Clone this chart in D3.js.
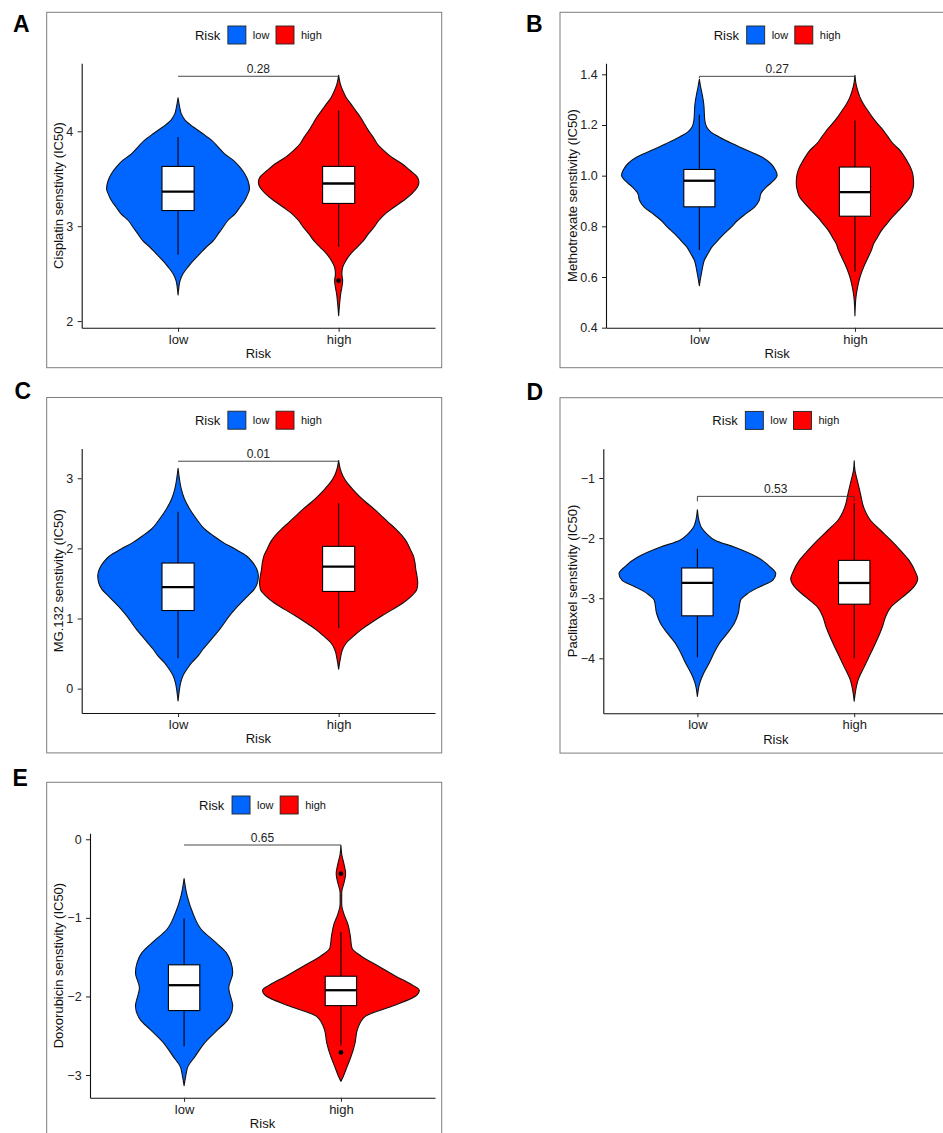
<!DOCTYPE html>
<html><head><meta charset="utf-8">
<script src="https://cdn.jsdelivr.net/npm/d3@7"></script>
<style>
html,body{margin:0;padding:0;background:#fff;}
svg{display:block;font-family:"Liberation Sans", Arial, sans-serif;}
</style></head><body>
<svg id="chart" width="943" height="1133"></svg>
<script>
// ---------------- DATA ----------------
const categories = ["low", "high"];
const categoryColors = ["#0066FF", "#FF0000"];
const legendTitle = "Risk";
const xTitle = "Risk";
const panelLetters = ["A", "B", "C", "D", "E"];
const yTitles = [
  "Cisplatin senstivity (IC50)",
  "Methotrexate senstivity (IC50)",
  "MG.132 senstivity (IC50)",
  "Paclitaxel senstivity (IC50)",
  "Doxorubicin senstivity (IC50)"
];
const pValues = ["0.28", "0.27", "0.01", "0.53", "0.65"];
const bracketValues = [4.58, 1.392, 3.243, -1.305, -0.073];
const yTickValues = [
  [2, 3, 4],
  [0.4, 0.6, 0.8, 1.0, 1.2, 1.4],
  [0, 1, 2, 3],
  [-4, -3, -2, -1],
  [-3, -2, -1, 0]
];
const yTickFormats = ["d", ".1f", "d", "d", "d"];

// box stats: [lower whisker, Q1, median, Q3, upper whisker] for [low, high]
const cisplatinBox = [[2.70, 3.165, 3.365, 3.63, 3.94], [2.785, 3.24, 3.45, 3.63, 4.22]];
const methotrexateBox = [[0.707, 0.877, 0.98, 1.0245, 1.241], [0.622, 0.84, 0.935, 1.034, 1.218]];
const mg132Box = [[0.434, 1.114, 1.448, 1.791, 2.524], [0.862, 1.386, 1.739, 2.029, 2.648]];
const paclitaxelBox = [[-3.983, -3.293, -2.746, -2.497, -2.177], [-4.0, -3.099, -2.746, -2.370, -1.42]];
const doxorubicinBox = [[-2.635, -2.180, -1.857, -1.598, -1.007], [-2.627, -2.117, -1.921, -1.743, -1.181]];

// outliers for [low, high]
const cisplatinOutliers = [[], [2.425]];
const methotrexateOutliers = [[], []];
const mg132Outliers = [[], []];
const paclitaxelOutliers = [[], []];
const doxorubicinOutliers = [[], [-0.438, -2.712]];

// violin density profiles [value, relative density]
const cisplatinLowDensity = [[4.354,0],[4.256,.02],[4.186,.04],[4.115,.09],[4.045,.19],[3.974,.31],[3.904,.42],[3.834,.50],[3.763,.58],[3.693,.69],[3.622,.77],[3.552,.83],[3.482,.87],[3.394,.89],[3.341,.87],[3.271,.83],[3.200,.77],[3.130,.71],[3.060,.62],[2.989,.56],[2.919,.50],[2.848,.44],[2.778,.35],[2.708,.27],[2.637,.19],[2.567,.12],[2.496,.06],[2.426,.025],[2.356,.01],[2.275,0]];
const cisplatinHighDensity = [[4.590,0],[4.502,.02],[4.432,.05],[4.362,.09],[4.291,.15],[4.221,.21],[4.151,.27],[4.080,.32],[4.010,.37],[3.939,.43],[3.869,.48],[3.799,.56],[3.728,.66],[3.658,.79],[3.587,.89],[3.517,.98],[3.464,1.0],[3.411,.98],[3.341,.91],[3.271,.81],[3.200,.69],[3.130,.58],[3.060,.50],[2.989,.44],[2.919,.37],[2.848,.31],[2.778,.23],[2.708,.15],[2.637,.09],[2.567,.05],[2.496,.04],[2.426,.05],[2.356,.04],[2.285,.025],[2.180,.012],[2.056,0]];
const methotrexateLowDensity = [[1.380,0],[1.350,.017],[1.324,.034],[1.297,.05],[1.271,.06],[1.245,.064],[1.218,.07],[1.192,.094],[1.172,.15],[1.152,.26],[1.126,.43],[1.099,.62],[1.073,.81],[1.047,.92],[1.021,.98],[1.001,1.0],[0.982,.96],[0.955,.86],[0.929,.79],[0.903,.77],[0.876,.71],[0.850,.60],[0.823,.49],[0.797,.41],[0.771,.32],[0.745,.24],[0.718,.16],[0.692,.11],[0.666,.064],[0.626,.034],[0.566,0]];
const methotrexateHighDensity = [[1.396,0],[1.363,.013],[1.337,.034],[1.310,.064],[1.284,.107],[1.258,.163],[1.231,.223],[1.205,.29],[1.179,.364],[1.152,.428],[1.126,.49],[1.100,.58],[1.073,.64],[1.047,.69],[1.021,.73],[0.994,.75],[0.968,.754],[0.941,.74],[0.915,.71],[0.889,.64],[0.862,.56],[0.836,.48],[0.810,.41],[0.783,.34],[0.757,.29],[0.731,.24],[0.704,.21],[0.678,.17],[0.652,.13],[0.625,.094],[0.599,.064],[0.560,.034],[0.520,.013],[0.447,0]];
const mg132LowDensity = [[3.143,0],[2.991,.017],[2.848,.04],[2.705,.08],[2.562,.145],[2.419,.23],[2.276,.33],[2.181,.44],[2.086,.56],[1.990,.71],[1.895,.85],[1.800,.93],[1.705,.98],[1.610,1.0],[1.514,.99],[1.419,.95],[1.324,.87],[1.229,.79],[1.133,.71],[1.038,.64],[0.943,.58],[0.848,.52],[0.752,.45],[0.657,.38],[0.562,.31],[0.467,.25],[0.371,.17],[0.276,.11],[0.181,.06],[0.086,.033],[-0.057,.012],[-0.176,0]];
const mg132HighDensity = [[3.253,0],[3.134,.02],[3.039,.05],[2.944,.10],[2.849,.17],[2.753,.25],[2.658,.34],[2.563,.44],[2.467,.53],[2.372,.62],[2.277,.71],[2.181,.79],[2.086,.85],[1.991,.89],[1.896,.93],[1.800,.95],[1.705,.96],[1.610,.975],[1.515,.985],[1.420,.975],[1.324,.91],[1.229,.81],[1.134,.68],[1.039,.54],[0.943,.41],[0.848,.29],[0.753,.19],[0.658,.10],[0.562,.05],[0.420,.02],[0.277,0]];
const paclitaxelLowDensity = [[-1.530,0],[-1.707,.02],[-1.818,.05],[-1.928,.12],[-2.039,.23],[-2.149,.47],[-2.315,.76],[-2.481,.93],[-2.591,1.0],[-2.702,.96],[-2.812,.79],[-2.923,.64],[-3.033,.55],[-3.254,.52],[-3.420,.47],[-3.586,.38],[-3.751,.28],[-3.917,.21],[-4.083,.15],[-4.249,.08],[-4.414,.03],[-4.635,0]];
const paclitaxelHighDensity = [[-0.712,0],[-0.878,.01],[-1.044,.04],[-1.265,.08],[-1.486,.12],[-1.707,.21],[-1.873,.34],[-2.039,.47],[-2.204,.59],[-2.370,.70],[-2.591,.79],[-2.674,.81],[-2.812,.76],[-2.978,.62],[-3.144,.47],[-3.309,.40],[-3.475,.36],[-3.696,.29],[-3.917,.21],[-4.138,.13],[-4.359,.05],[-4.525,.02],[-4.713,0]];
const doxorubicinLowDensity = [[-0.501,0],[-0.723,.04],[-0.935,.11],[-1.148,.22],[-1.318,.41],[-1.445,.54],[-1.573,.60],[-1.700,.62],[-1.891,.57],[-2.125,.62],[-2.295,.56],[-2.423,.43],[-2.593,.26],[-2.763,.14],[-2.890,.05],[-3.018,.02],[-3.137,0]];
const doxorubicinHighDensity = [[-0.077,0],[-0.191,.01],[-0.319,.04],[-0.438,.06],[-0.553,.04],[-0.680,.01],[-0.829,.01],[-0.956,.04],[-1.084,.09],[-1.233,.12],[-1.381,.14],[-1.488,.26],[-1.615,.48],[-1.743,.70],[-1.849,.90],[-1.921,1.0],[-1.998,.95],[-2.125,.65],[-2.253,.31],[-2.423,.21],[-2.593,.18],[-2.763,.13],[-2.890,.08],[-3.018,.03],[-3.081,0]];

const panelBoxes = [cisplatinBox, methotrexateBox, mg132Box, paclitaxelBox, doxorubicinBox];
const panelOutliers = [cisplatinOutliers, methotrexateOutliers, mg132Outliers, paclitaxelOutliers, doxorubicinOutliers];
const panelDensities = [
  [cisplatinLowDensity, cisplatinHighDensity],
  [methotrexateLowDensity, methotrexateHighDensity],
  [mg132LowDensity, mg132HighDensity],
  [paclitaxelLowDensity, paclitaxelHighDensity],
  [doxorubicinLowDensity, doxorubicinHighDensity]
];

// ---------------- LAYOUT ----------------
const layout = [
  {x0: 46.7, y0: 12.3, left: 81.7, lx: 13, ly: 32.3, tip: 0},
  {x0: 560, y0: 12.3, left: 606, lx: 526, ly: 32.3, tip: 2},
  {x0: 46.7, y0: 397.5, left: 81.7, lx: 14.5, ly: 398.5, tip: 0},
  {x0: 560, y0: 397.7, left: 603.3, lx: 526.5, ly: 399.5, tip: 5},
  {x0: 46.7, y0: 782.3, left: 90, lx: 12.5, ly: 785.8, tip: 0}
];
const PW = 395, PH = 355.4;

const svg = d3.select("#chart");
svg.append("rect").attr("width", 943).attr("height", 1133).attr("fill", "#fff");

panelLetters.forEach((letter, i) => {
  const L = layout[i];
  const g = svg.append("g");
  const top = L.y0 + 51, bottom = L.y0 + 315.5, right = L.x0 + 388.3, left = L.left;

  // panel border
  g.append("rect").attr("x", L.x0).attr("y", L.y0).attr("width", PW).attr("height", PH)
    .attr("fill", "none").attr("stroke", "#7d7d7d").attr("stroke-width", 1);

  // panel letter
  svg.append("text").attr("x", L.lx).attr("y", L.ly).text(letter)
    .attr("font-size", 23).attr("font-weight", "bold").attr("fill", "#000");

  const dens = panelDensities[i];
  const allVals = dens.flatMap(d => d.map(p => p[0]));
  const ext = d3.extent(allVals);
  const pad = (ext[1] - ext[0]) * 0.05;
  const y = d3.scaleLinear().domain([ext[0] - pad, ext[1] + pad]).range([bottom, top]);
  const x = d3.scalePoint().domain(categories).range([left, right]).padding(0.6);
  const step = x.step();
  const maxD = d3.max(dens.flatMap(d => d.map(p => p[1])));

  // violins
  categories.forEach((cat, j) => {
    const cx = x(cat);
    const w = d3.scaleLinear().domain([0, maxD]).range([0, step * 0.5]);
    const area = d3.area()
      .y(p => y(p[0]))
      .x0(p => cx - w(p[1]))
      .x1(p => cx + w(p[1]))
      .curve(d3.curveMonotoneY);
    g.append("path").attr("d", area(dens[j]))
      .attr("fill", categoryColors[j]).attr("stroke", "#111").attr("stroke-width", 1.1)
      .attr("stroke-linejoin", "round");
  });

  // boxes
  categories.forEach((cat, j) => {
    const cx = x(cat);
    const b = panelBoxes[i][j];
    const bw = step * 0.2;
    g.append("line").attr("x1", cx).attr("x2", cx).attr("y1", y(b[0])).attr("y2", y(b[4]))
      .attr("stroke", "#000").attr("stroke-width", 1.1);
    g.append("rect").attr("x", cx - bw / 2).attr("width", bw)
      .attr("y", y(b[3])).attr("height", y(b[1]) - y(b[3]))
      .attr("fill", "#fff").attr("stroke", "#000").attr("stroke-width", 1.1);
    g.append("line").attr("x1", cx - bw / 2).attr("x2", cx + bw / 2)
      .attr("y1", y(b[2])).attr("y2", y(b[2]))
      .attr("stroke", "#000").attr("stroke-width", 2.3);
    panelOutliers[i][j].forEach(o => {
      g.append("circle").attr("cx", cx).attr("cy", y(o)).attr("r", 2.4).attr("fill", "#000");
    });
  });

  // significance bracket
  const by = y(bracketValues[i]);
  const xl = x(categories[0]), xh = x(categories[1]);
  g.append("path").attr("d", `M${xl},${by + L.tip}V${by}H${xh}V${by + L.tip}`)
    .attr("fill", "none").attr("stroke", "#333").attr("stroke-width", 0.9);
  g.append("text").attr("x", (xl + xh) / 2).attr("y", by - 3).attr("text-anchor", "middle")
    .attr("font-size", 12).attr("fill", "#222").text(pValues[i]);

  // axes
  const yAxis = d3.axisLeft(y).tickValues(yTickValues[i]).tickFormat(d3.format(yTickFormats[i]))
    .tickSize(4).tickSizeOuter(0).tickPadding(4.4);
  const ya = g.append("g").attr("transform", `translate(${left},0)`).call(yAxis);
  const xAxis = d3.axisBottom(x).tickSize(4).tickSizeOuter(0).tickPadding(2.6);
  const xa = g.append("g").attr("transform", `translate(0,${bottom})`).call(xAxis);
  [ya, xa].forEach(a => {
    a.select(".domain").attr("stroke", "#111").attr("stroke-width", 1.1);
    a.selectAll(".tick line").attr("stroke", "#222").attr("stroke-width", 1);
    a.selectAll(".tick text").attr("font-family", "'Liberation Sans', Arial, sans-serif").attr("fill", "#222");
  });
  ya.selectAll(".tick text").attr("font-size", 12.5);
  xa.selectAll(".tick text").attr("font-size", 13);

  // axis titles
  g.append("text").attr("x", (left + right) / 2).attr("y", bottom + 30.3).attr("text-anchor", "middle")
    .attr("font-size", 13).attr("fill", "#111").text(xTitle);
  g.append("text").attr("transform", `translate(${L.x0 + 12},${(top + bottom) / 2}) rotate(-90)`)
    .attr("text-anchor", "middle").attr("dominant-baseline", "central")
    .attr("font-size", 13).attr("fill", "#111").text(yTitles[i]);

  // legend
  const lg = g.append("g");
  const tTitle = lg.append("text").attr("y", L.y0 + 27.7).attr("font-size", 13).attr("fill", "#111").text(legendTitle);
  const titleW = tTitle.node().getComputedTextLength();
  let cur = titleW + 7.7;
  categories.forEach((cat, j) => {
    lg.append("rect").attr("x", cur).attr("y", L.y0 + 13.7).attr("width", 18).attr("height", 18)
      .attr("fill", categoryColors[j]).attr("stroke", "#222").attr("stroke-width", 0.9);
    cur += 18 + 7;
    const t = lg.append("text").attr("x", cur).attr("y", L.y0 + 26.7).attr("font-size", 11).attr("fill", "#111").text(cat);
    cur += t.node().getComputedTextLength() + (j === 0 ? 6.6 : 0);
  });
  const cxp = (left + right) / 2;
  lg.attr("transform", `translate(${cxp - cur / 2},0)`);
});
</script>
</body></html>
